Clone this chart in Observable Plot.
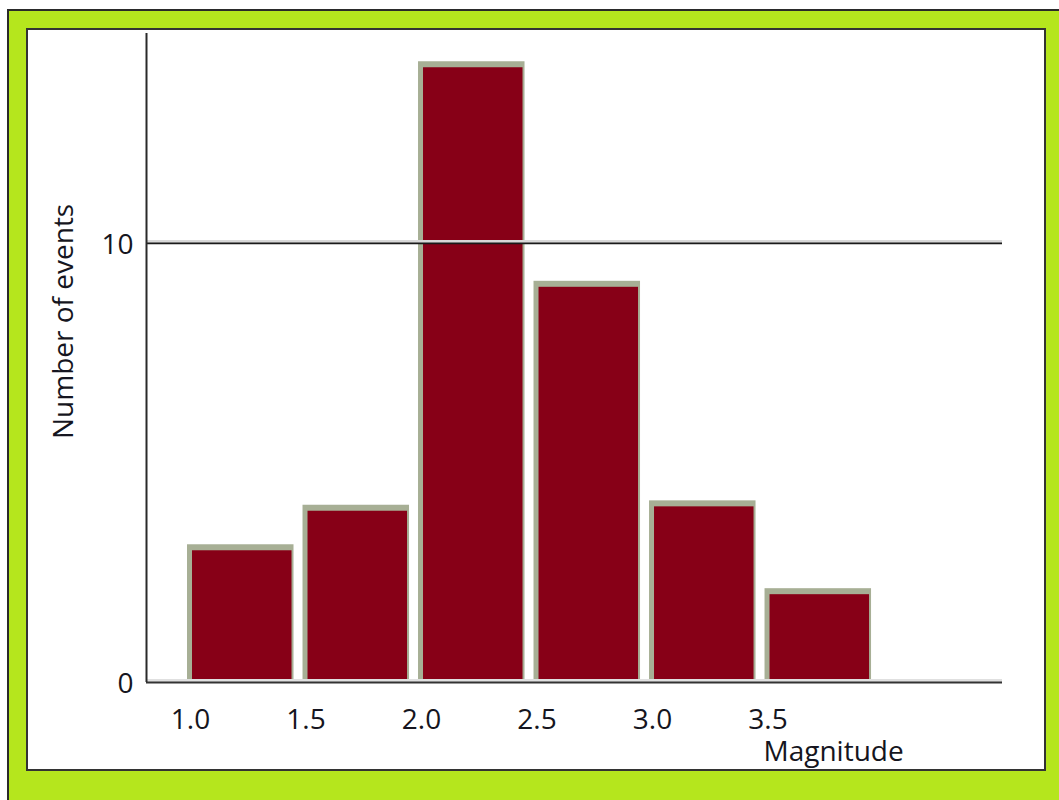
<!DOCTYPE html>
<html>
<head>
<meta charset="utf-8">
<script src="https://cdn.jsdelivr.net/npm/d3@7"></script>
<script src="https://cdn.jsdelivr.net/npm/@observablehq/plot@0.6"></script>
<style>
  html, body { margin: 0; padding: 0; background: #fff; overflow: hidden; width: 1059px; height: 800px; }
  #frame { position: absolute; left: 7px; top: 9px; right: -10px; bottom: -10px; background: #b5e61d;
           border-left: 2px solid #2a2a2a; border-top: 2px solid #2a2a2a; }
  #panel { position: absolute; left: 26px; top: 28px; width: 1020px; height: 743px; box-sizing: border-box;
           background: #fff; border: 2px solid #333; }
  #chart { position: absolute; left: 0; top: 0; }
</style>
</head>
<body>
<div id="frame"></div>
<div id="panel"></div>
<div id="chart"></div>
<script>
// Data
const binStarts = [1.0, 1.5, 2.0, 2.5, 3.0, 3.5];
const binEnds   = [1.5, 2.0, 2.5, 3.0, 3.5, 4.0];
const counts    = [3, 3.9, 14, 9, 4, 2];
const xTicks = [1.0, 1.5, 2.0, 2.5, 3.0, 3.5];
const xTickLabels = ["1.0", "1.5", "2.0", "2.5", "3.0", "3.5"];
const yTicks = [0, 10];
const xLabel = "Magnitude";
const yLabel = "Number of events";

const bins = binStarts.map((m, i) => ({ x1: m, x2: binEnds[i], count: counts[i] }));

const xDomain = [0.8095, 4.515];
const yDomain = [0, 14.78];

const chart = Plot.plot({
  width: 1059,
  height: 800,
  marginLeft: 146,
  marginRight: 57,
  marginTop: 33,
  marginBottom: 118,
  x: { domain: xDomain, axis: null },
  y: { domain: yDomain, axis: null },
  style: { background: "transparent", fontFamily: "'Open Sans', sans-serif", fontSize: "28px", color: "#151520" },
  marks: [
    // bar shadows
    Plot.rectY(bins, { x1: "x1", x2: "x2", y: "count", fill: "#98a183", fillOpacity: 0.85,
                       insetLeft: -3, insetRight: 12, insetTop: -6 }),
    // bars
    Plot.rectY(bins, { x1: "x1", x2: "x2", y: "count", fill: "#870017", insetLeft: 2, insetRight: 14 }),
    // gridline at 10 with soft shadow
    Plot.ruleY([yTicks[1]], { stroke: "#d8d8d8", strokeWidth: 3, dy: -2 }),
    Plot.ruleY([yTicks[1]], { stroke: "#1a1a1a", strokeWidth: 1.6 }),
    // x axis line
    Plot.ruleY([yTicks[0]], { stroke: "#e0e0e0", strokeWidth: 3, dy: -2 }),
    Plot.ruleY([yTicks[0]], { stroke: "#333", strokeWidth: 2.2 }),
    // y axis line
    Plot.ruleX([xDomain[0]], { stroke: "#2a2a2a", strokeWidth: 2 }),
    // tick labels
    Plot.axisX(xTicks, { tickSize: 0, tickPadding: 27, label: null, fontSize: 28,
                         tickFormat: d => xTickLabels[xTicks.indexOf(d)] }),
    Plot.axisY(yTicks, { tickSize: 0, tickPadding: 13, label: null, fontSize: 28, dy: 2 }),
    // axis titles
    Plot.text([xLabel], { text: d => d, frameAnchor: "bottom-left", textAnchor: "start", lineAnchor: "bottom",
                          dx: 617, dy: 78, fontSize: 28, fill: "#151520" }),
    Plot.text([yLabel], { text: d => d, frameAnchor: "left", rotate: -90, lineAnchor: "bottom",
                          dx: -74, dy: 81, fontSize: 28, fill: "#151520" })
  ]
});
document.getElementById("chart").appendChild(chart);
</script>
</body>
</html>
